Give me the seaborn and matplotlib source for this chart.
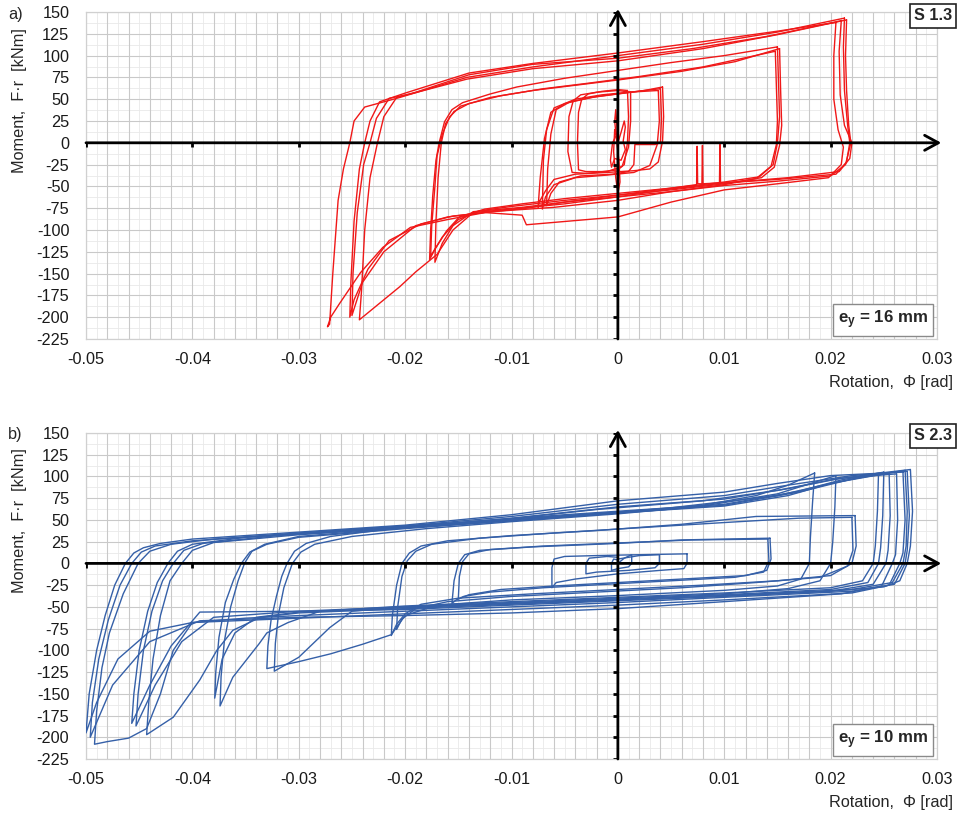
import numpy as np
import pandas as pd
import matplotlib
matplotlib.use("Agg")
import matplotlib.pyplot as plt
import seaborn as sns

# ---------------------------------------------------------------------------
# Axis scales and tick labels
# ---------------------------------------------------------------------------
rotation_ticks = [-0.05, -0.04, -0.03, -0.02, -0.01, 0.0, 0.01, 0.02, 0.03]
rotation_labels = ["-0.05", "-0.04", "-0.03", "-0.02", "-0.01", "0", "0.01", "0.02", "0.03"]
moment_ticks = [150, 125, 100, 75, 50, 25, 0, -25, -50, -75, -100, -125, -150, -175, -200, -225]
moment_labels = ["150", "125", "100", "75", "50", "25", "0", "-25", "-50", "-75",
                 "-100", "-125", "-150", "-175", "-200", "-225"]

# ---------------------------------------------------------------------------
# Specimen S 1.3 (e_y = 16 mm): cycles as (rotation [rad], moment [kNm])
# ---------------------------------------------------------------------------
s13_cycle_01 = [(0.0000, 0), (0.0003, 12), (0.0006, 25), (0.0007, 18), (0.0005, 2), (0.0007, -8),
                (0.0003, -20), (-0.0003, -18), (-0.0006, -28), (-0.0007, -20), (-0.0005, 0),
                (-0.0001, 10), (0.0000, 5)]
s13_cycle_02 = [(0.0000, 5), (-0.0001, 20), (-0.0002, 38), (-0.0003, 25), (-0.0001, 0),
                (0.0001, -20), (0.0002, -45), (0.0000, -58), (-0.0002, -40), (-0.0004, -10),
                (-0.0003, 15), (0.0000, 5)]
s13_cycle_03 = [(0.0009, 60), (0.0010, 30), (0.0009, 0), (0.0006, -25), (0.0000, -31),
                (-0.0015, -33), (-0.0030, -33), (-0.0037, -31), (-0.0038, 0), (-0.0037, 35),
                (-0.0034, 50), (-0.0028, 56), (-0.0015, 59), (0.0000, 61), (0.0009, 60)]
s13_cycle_04 = [(0.0012, 58), (0.0012, 25), (0.0010, -5), (0.0004, -27), (-0.0010, -33),
                (-0.0030, -35), (-0.0043, -34), (-0.0047, -10), (-0.0046, 30), (-0.0042, 48),
                (-0.0035, 55), (-0.0020, 58), (0.0000, 60), (0.0012, 58)]
s13_cycle_05 = [(0.0042, 64), (0.0043, 30), (0.0042, 2), (0.0038, -22), (0.0030, -30),
                (0.0015, -32), (-0.0010, -34), (-0.0040, -36), (-0.0060, -42), (-0.0068, -55),
                (-0.0074, -68), (-0.0075, -74), (-0.0073, -40), (-0.0069, 5), (-0.0063, 35),
                (-0.0050, 45), (-0.0025, 52), (0.0000, 56), (0.0025, 60), (0.0042, 64)]
s13_cycle_06 = [(0.0040, 62), (0.0041, 28), (0.0040, 0), (0.0035, -2), (0.0016, -2),
                (0.0015, -25), (0.0010, -33), (-0.0005, -36), (-0.0035, -38), (-0.0055, -45),
                (-0.0063, -58), (-0.0067, -72), (-0.0066, -30), (-0.0063, 10), (-0.0058, 38),
                (-0.0045, 47), (-0.0020, 53), (0.0005, 57), (0.0025, 60), (0.0040, 62)]
s13_cycle_07 = [(0.0038, 60), (0.0039, 25), (0.0037, -2), (0.0030, -26), (0.0015, -34),
                (-0.0010, -37), (-0.0040, -40), (-0.0060, -48), (-0.0068, -62), (-0.0071, -76),
                (-0.0070, -20), (-0.0067, 15), (-0.0060, 40), (-0.0040, 50), (-0.0015, 55),
                (0.0010, 58), (0.0038, 60)]
s13_cycle_08 = [(0.0150, 110), (0.0151, 70), (0.0152, 30), (0.0150, 0), (0.0146, -25),
                (0.0133, -39), (0.0100, -45), (0.0050, -52), (0.0000, -58), (-0.0050, -64),
                (-0.0090, -70), (-0.0125, -76), (-0.0149, -85), (-0.0161, -101), (-0.0172, -122),
                (-0.0177, -134), (-0.0176, -100), (-0.0174, -60), (-0.0171, -20), (-0.0168, 0),
                (-0.0163, 24), (-0.0156, 38), (-0.0146, 46), (-0.0120, 56), (-0.0095, 64),
                (-0.0050, 74), (0.0000, 83), (0.0050, 92), (0.0100, 100), (0.0150, 110)]
s13_cycle_09 = [(0.0148, 105), (0.0149, 65), (0.0150, 25), (0.0149, -2), (0.0144, -27),
                (0.0130, -41), (0.0100, -48), (0.0050, -56), (0.0000, -62), (-0.0050, -68),
                (-0.0090, -74), (-0.0136, -79), (-0.0155, -95), (-0.0165, -115), (-0.0172, -137),
                (-0.0171, -90), (-0.0169, -40), (-0.0166, 0), (-0.0162, 22), (-0.0154, 36),
                (-0.0140, 45), (-0.0110, 54), (-0.0070, 62), (-0.0030, 68), (0.0020, 76),
                (0.0080, 87), (0.0148, 105)]
s13_cycle_10 = [(0.0152, 108), (0.0153, 60), (0.0154, 20), (0.0152, -3), (0.0147, -28),
                (0.0135, -40), (0.0100, -47), (0.0050, -54), (0.0000, -60), (-0.0050, -66),
                (-0.0100, -73), (-0.0130, -78), (-0.0150, -88), (-0.0165, -108), (-0.0176, -130),
                (-0.0175, -95), (-0.0172, -50), (-0.0170, -15), (-0.0165, 10), (-0.0158, 30),
                (-0.0148, 42), (-0.0120, 52), (-0.0080, 60), (-0.0040, 66), (0.0000, 72),
                (0.0060, 82), (0.0110, 93), (0.0152, 108)]
s13_cycle_11 = [(0.0213, 143), (0.0212, 110), (0.0213, 60), (0.0216, 20), (0.0218, 0),
                (0.0215, -22), (0.0205, -36), (0.0150, -42), (0.0100, -46), (0.00965, -46),
                (0.0096, -2), (0.00955, -46), (0.0080, -47), (0.00795, -3), (0.0079, -47),
                (0.0075, -47), (0.00745, -4), (0.0074, -48), (0.0050, -52), (0.0000, -60),
                (-0.0050, -68), (-0.0086, -75), (-0.0125, -80), (-0.0160, -88), (-0.0195, -97),
                (-0.0221, -120), (-0.0242, -149), (-0.0262, -185), (-0.0270, -200),
                (-0.0273, -211), (-0.0271, -208), (-0.0268, -150), (-0.0263, -66),
                (-0.0258, -30), (-0.0252, 0), (-0.0248, 25), (-0.0238, 41), (-0.0205, 52),
                (-0.0142, 75), (-0.0080, 87), (0.0000, 100), (0.0080, 113), (0.0150, 127),
                (0.0213, 143)]
s13_cycle_12 = [(0.0205, 138), (0.0203, 100), (0.0203, 50), (0.0207, 15), (0.0212, -5),
                (0.0210, -25), (0.0198, -40), (0.0150, -47), (0.0100, -54), (0.0050, -68),
                (0.0000, -85), (-0.0086, -94), (-0.0090, -83), (-0.0125, -80), (-0.0155, -84),
                (-0.0185, -93), (-0.0215, -112), (-0.0235, -145), (-0.0248, -180),
                (-0.0252, -200), (-0.0251, -160), (-0.0248, -90), (-0.0243, -30), (-0.0238, 0),
                (-0.0233, 25), (-0.0224, 47), (-0.0200, 57), (-0.0140, 80), (-0.0080, 91),
                (0.0000, 103), (0.0080, 116), (0.0150, 128), (0.0205, 138)]
s13_cycle_13 = [(0.0210, 140), (0.0208, 105), (0.0209, 55), (0.0213, 20), (0.0220, 0),
                (0.0218, -18), (0.0208, -33), (0.0160, -40), (0.0100, -46), (0.0050, -53),
                (0.0000, -62), (-0.0050, -70), (-0.0100, -76), (-0.0136, -80), (-0.0155, -100),
                (-0.0170, -128), (-0.0190, -148), (-0.0205, -165), (-0.0225, -185),
                (-0.0243, -203), (-0.0241, -170), (-0.0238, -100), (-0.0233, -40), (-0.0226, 0),
                (-0.0220, 30), (-0.0208, 52), (-0.0190, 58), (-0.0140, 78), (-0.0080, 90),
                (0.0000, 97), (0.0070, 108), (0.0140, 122), (0.0210, 140)]
s13_cycle_14 = [(0.0215, 141), (0.0214, 100), (0.0215, 60), (0.0217, 20), (0.0219, 0),
                (0.0214, -25), (0.0200, -38), (0.0150, -44), (0.0100, -49), (0.0050, -56),
                (0.0000, -66), (-0.0060, -74), (-0.0120, -79), (-0.0160, -85), (-0.0190, -95),
                (-0.0220, -125), (-0.0240, -160), (-0.0250, -198), (-0.0249, -150),
                (-0.0245, -80), (-0.0239, -25), (-0.0233, 0), (-0.0227, 28), (-0.0215, 51),
                (-0.0195, 56), (-0.0142, 73), (-0.0080, 85), (0.0000, 94), (0.0080, 108),
                (0.0150, 124), (0.0215, 141)]

s13_cycles = [s13_cycle_01, s13_cycle_02, s13_cycle_03, s13_cycle_04, s13_cycle_05,
              s13_cycle_06, s13_cycle_07, s13_cycle_08, s13_cycle_09, s13_cycle_10,
              s13_cycle_11, s13_cycle_12, s13_cycle_13, s13_cycle_14]

# ---------------------------------------------------------------------------
# Specimen S 2.3 (e_y = 10 mm): cycles as (rotation [rad], moment [kNm])
# ---------------------------------------------------------------------------
s23_cycle_01 = [(0.0000, 0), (0.0006, 6), (0.0013, 10), (0.0013, 0), (0.0010, -4),
                (0.0000, -6), (-0.0006, -8), (-0.0006, 0), (-0.0004, 5), (0.0000, 4)]
s23_cycle_02 = [(0.0000, 5), (0.0020, 9), (0.0039, 10), (0.0039, 0), (0.0035, -5),
                (0.0010, -8), (-0.0020, -10), (-0.0030, -12), (-0.0030, 0), (-0.0027, 6),
                (-0.0010, 8), (0.0000, 7)]
s23_cycle_03 = [(0.0065, 11), (0.0065, 0), (0.0062, -6), (0.0040, -8), (0.0000, -12),
                (-0.0040, -18), (-0.0058, -22), (-0.0062, -28), (-0.0062, -5), (-0.0060, 5),
                (-0.0050, 8), (-0.0020, 9), (0.0020, 10), (0.0065, 11)]
s23_cycle_04 = [(0.0143, 29), (0.0144, 5), (0.0140, -8), (0.0120, -14), (0.0060, -18),
                (0.0000, -22), (-0.0060, -26), (-0.0110, -30), (-0.0140, -36), (-0.0152, -42),
                (-0.0156, -46), (-0.0154, -20), (-0.0150, 0), (-0.0144, 10), (-0.0130, 15),
                (-0.0080, 19), (0.0000, 23), (0.0060, 27), (0.0143, 29)]
s23_cycle_05 = [(0.0141, 28), (0.0142, 3), (0.0137, -10), (0.0110, -16), (0.0050, -20),
                (-0.0010, -24), (-0.0070, -28), (-0.0120, -33), (-0.0145, -38), (-0.0150, -41),
                (-0.0149, -15), (-0.0146, 2), (-0.0140, 11), (-0.0120, 16), (-0.0070, 20),
                (0.0010, 24), (0.0070, 27), (0.0141, 28)]
s23_cycle_06 = [(0.0223, 55), (0.0224, 20), (0.0220, 0), (0.0200, -14), (0.0150, -20),
                (0.0080, -25), (0.0000, -30), (-0.0080, -35), (-0.0150, -40), (-0.0185, -47),
                (-0.0200, -58), (-0.0208, -70), (-0.0213, -83), (-0.0212, -60), (-0.0208, -25),
                (-0.0203, 0), (-0.0196, 12), (-0.0185, 20), (-0.0160, 26), (-0.0100, 32),
                (-0.0017, 38), (0.0060, 45), (0.0130, 54), (0.0223, 55)]
s23_cycle_07 = [(0.0220, 53), (0.0221, 15), (0.0216, -3), (0.0190, -16), (0.0130, -22),
                (0.0060, -28), (-0.0020, -33), (-0.0100, -38), (-0.0160, -44), (-0.0190, -52),
                (-0.0203, -64), (-0.0208, -76), (-0.0207, -50), (-0.0203, -15), (-0.0198, 3),
                (-0.0190, 14), (-0.0175, 22), (-0.0130, 29), (-0.0060, 35), (0.0020, 41),
                (0.0100, 47), (0.0170, 52), (0.0220, 53)]
s23_cycle_08 = [(0.0185, 104), (0.0183, 70), (0.0181, 30), (0.0180, 0), (0.0172, -18),
                (0.0150, -26), (0.0100, -31), (0.0000, -37), (-0.0100, -42), (-0.0170, -48),
                (-0.0200, -60), (-0.0213, -82), (-0.0240, -93), (-0.0270, -104), (-0.0300, -113),
                (-0.0330, -121), (-0.0329, -95), (-0.0326, -65), (-0.0321, -38), (-0.0316, -15),
                (-0.0311, 0), (-0.0304, 14), (-0.0293, 23), (-0.0270, 31), (-0.0200, 42),
                (-0.0100, 51), (0.0000, 59), (0.0080, 67), (0.0130, 78), (0.0160, 90),
                (0.0185, 104)]
s23_cycle_09 = [(0.0205, 101), (0.0204, 65), (0.0202, 25), (0.0200, 0), (0.0190, -20),
                (0.0160, -29), (0.0100, -35), (0.0000, -40), (-0.0100, -45), (-0.0200, -50),
                (-0.0250, -55), (-0.0271, -74), (-0.0300, -108), (-0.0323, -124), (-0.0322, -92),
                (-0.0319, -58), (-0.0314, -28), (-0.0306, 0), (-0.0298, 13), (-0.0285, 22),
                (-0.0250, 31), (-0.0180, 40), (-0.0100, 48), (0.0000, 57), (0.0080, 66),
                (0.0150, 80), (0.0205, 101)]
s23_cycle_10 = [(0.0245, 103), (0.0244, 60), (0.0242, 20), (0.0240, 0), (0.0230, -20),
                (0.0200, -28), (0.0100, -34), (0.0000, -39), (-0.0100, -44), (-0.0200, -49),
                (-0.0280, -55), (-0.0310, -68), (-0.0330, -80), (-0.0337, -92), (-0.0362, -131),
                (-0.0374, -164), (-0.0373, -130), (-0.0370, -90), (-0.0364, -50), (-0.0357, -20),
                (-0.0351, 0), (-0.0344, 14), (-0.0330, 22), (-0.0300, 30), (-0.0200, 40),
                (-0.0100, 49), (0.0000, 58), (0.0100, 66), (0.0160, 78), (0.0200, 92),
                (0.0245, 103)]
s23_cycle_11 = [(0.0250, 105), (0.0249, 55), (0.0247, 18), (0.0245, 0), (0.0235, -22),
                (0.0200, -30), (0.0100, -36), (0.0000, -41), (-0.0100, -46), (-0.0200, -51),
                (-0.0300, -56), (-0.0340, -62), (-0.0360, -80), (-0.0372, -110), (-0.0379, -155),
                (-0.0378, -125), (-0.0375, -85), (-0.0369, -45), (-0.0361, -18), (-0.0354, 0),
                (-0.0346, 13), (-0.0332, 22), (-0.0300, 31), (-0.0200, 41), (-0.0100, 50),
                (0.0000, 59), (0.0100, 68), (0.0170, 83), (0.0210, 96), (0.0250, 105)]
s23_cycle_12 = [(0.0270, 107), (0.0272, 60), (0.0271, 20), (0.0268, 0), (0.0258, -22),
                (0.0220, -30), (0.0100, -37), (0.0000, -42), (-0.0100, -47), (-0.0200, -52),
                (-0.0300, -57), (-0.0336, -62), (-0.0362, -77), (-0.0377, -100), (-0.0393, -134),
                (-0.0418, -177), (-0.0443, -197), (-0.0441, -160), (-0.0437, -110),
                (-0.0430, -60), (-0.0421, -20), (-0.0410, 0), (-0.0400, 15), (-0.0380, 24),
                (-0.0300, 33), (-0.0200, 41), (-0.0100, 49), (0.0000, 58), (0.0100, 67),
                (0.0170, 82), (0.0220, 97), (0.0270, 107)]
s23_cycle_13 = [(0.0255, 104), (0.0256, 55), (0.0254, 15), (0.0252, 0), (0.0240, -24),
                (0.0200, -32), (0.0100, -38), (0.0000, -43), (-0.0100, -48), (-0.0200, -53),
                (-0.0300, -55), (-0.0393, -56), (-0.0420, -95), (-0.0440, -140), (-0.0457, -184),
                (-0.0455, -150), (-0.0450, -100), (-0.0442, -55), (-0.0433, -22), (-0.0423, 0),
                (-0.0414, 14), (-0.0400, 22), (-0.0350, 30), (-0.0250, 39), (-0.0150, 47),
                (-0.0050, 56), (0.0050, 64), (0.0150, 78), (0.0200, 92), (0.0255, 104)]
s23_cycle_14 = [(0.0275, 108), (0.0277, 60), (0.0275, 20), (0.0272, 0), (0.0265, -20),
                (0.0250, -27), (0.0200, -32), (0.0100, -37), (0.0000, -42), (-0.0100, -46),
                (-0.0200, -50), (-0.0300, -55), (-0.0380, -62), (-0.0410, -90), (-0.0435, -140),
                (-0.0453, -187), (-0.0451, -150), (-0.0446, -100), (-0.0438, -55),
                (-0.0428, -20), (-0.0418, 0), (-0.0408, 15), (-0.0390, 23), (-0.0320, 32),
                (-0.0220, 40), (-0.0120, 49), (-0.0020, 62), (0.0080, 72), (0.0150, 84),
                (0.0200, 96), (0.0240, 103), (0.0275, 108)]
s23_cycle_15 = [(0.0272, 106), (0.0274, 55), (0.0272, 15), (0.0270, 0), (0.0260, -24),
                (0.0220, -32), (0.0100, -39), (0.0000, -45), (-0.0100, -50), (-0.0200, -55),
                (-0.0300, -60), (-0.0350, -63), (-0.0400, -68), (-0.0418, -100), (-0.0430, -150),
                (-0.0443, -190), (-0.0460, -201), (-0.0480, -205), (-0.0492, -208),
                (-0.0490, -170), (-0.0485, -120), (-0.0478, -80), (-0.0465, -35), (-0.0451, 0),
                (-0.0440, 14), (-0.0420, 22), (-0.0380, 28), (-0.0300, 35), (-0.0200, 43),
                (-0.0100, 54), (0.0000, 68), (0.0100, 78), (0.0160, 90), (0.0220, 101),
                (0.0272, 106)]
s23_cycle_16 = [(0.0268, 105), (0.0270, 50), (0.0268, 12), (0.0265, 0), (0.0255, -25),
                (0.0220, -34), (0.0100, -42), (0.0000, -48), (-0.0100, -53), (-0.0200, -58),
                (-0.0300, -63), (-0.0400, -68), (-0.0440, -78), (-0.0470, -110), (-0.0490, -160),
                (-0.0500, -195), (-0.0497, -150), (-0.0490, -100), (-0.0482, -60),
                (-0.0473, -25), (-0.0463, 0), (-0.0455, 12), (-0.0446, 18), (-0.0430, 23),
                (-0.0400, 28), (-0.0300, 36), (-0.0200, 44), (-0.0100, 56), (0.0000, 72),
                (0.0100, 82), (0.0150, 92), (0.0200, 101), (0.0268, 105)]
s23_cycle_17 = [(0.0262, 103), (0.0263, 50), (0.0261, 10), (0.0258, 0), (0.0248, -26),
                (0.0210, -35), (0.0100, -44), (0.0000, -52), (-0.0100, -57), (-0.0200, -60),
                (-0.0300, -62), (-0.0393, -66), (-0.0440, -90), (-0.0475, -140), (-0.0496, -200),
                (-0.0494, -160), (-0.0488, -110), (-0.0479, -65), (-0.0468, -25), (-0.0457, 0),
                (-0.0448, 13), (-0.0435, 20), (-0.0400, 26), (-0.0300, 34), (-0.0200, 42),
                (-0.0100, 52), (0.0000, 65), (0.0100, 74), (0.0160, 86), (0.0210, 98),
                (0.0262, 103)]

s23_cycles = [s23_cycle_01, s23_cycle_02, s23_cycle_03, s23_cycle_04, s23_cycle_05,
              s23_cycle_06, s23_cycle_07, s23_cycle_08, s23_cycle_09, s23_cycle_10,
              s23_cycle_11, s23_cycle_12, s23_cycle_13, s23_cycle_14, s23_cycle_15,
              s23_cycle_16, s23_cycle_17]

# ---------------------------------------------------------------------------
# Styling
# ---------------------------------------------------------------------------
sns.set_theme(style="white")
plt.rcParams["font.family"] = ["Liberation Sans", "DejaVu Sans"]
plt.rcParams["mathtext.fontset"] = "custom"
plt.rcParams["mathtext.rm"] = "Liberation Sans"
plt.rcParams["mathtext.bf"] = "Liberation Sans:bold"
plt.rcParams["mathtext.it"] = "Liberation Sans:italic"

RED = "#f01818"
BLUE = "#3560a8"
FS = 11.7
W, H = 960, 815


def cycles_frame(cycles):
    rows = []
    for k, pts in enumerate(cycles):
        for step, (rot, mom) in enumerate(pts):
            rows.append((k, step, rot, mom))
    return pd.DataFrame(rows, columns=["cycle", "step", "rotation", "moment"])


def fx(px):
    return px / W


def fy(py):
    return 1 - py / H


def style_panel(ax):
    ax.set_xlim(-0.05, 0.03)
    ax.set_ylim(-225, 150)
    # fine grid: every 0.001 rad and 12.5 kNm; main grid: 0.002 rad and 25 kNm
    for x in np.arange(-0.05, 0.0301, 0.001):
        ax.axvline(x, color="#e9e9e9", lw=0.6, zorder=0)
    for y in np.arange(-225, 150.1, 12.5):
        ax.axhline(y, color="#e9e9e9", lw=0.6, zorder=0)
    for x in np.arange(-0.05, 0.0301, 0.002):
        ax.axvline(x, color="#c9c9c9", lw=0.8, zorder=0.5)
    for y in moment_ticks:
        ax.axhline(y, color="#c9c9c9", lw=0.8, zorder=0.5)

    ax.set_xticks(rotation_ticks)
    ax.set_xticklabels(rotation_labels, fontsize=FS, color="#1a1a1a")
    ax.set_yticks(moment_ticks)
    ax.set_yticklabels(moment_labels, fontsize=FS, color="#1a1a1a")
    ax.tick_params(axis="both", length=0)
    ax.tick_params(axis="x", pad=9)
    ax.tick_params(axis="y", pad=12)
    ax.set_xlabel("")
    ax.set_ylabel("")
    for sp in ax.spines.values():
        sp.set_color("#d0d0d0")
        sp.set_linewidth(0.9)

    # black coordinate axes through the origin, with arrow heads
    arrow = dict(arrowstyle="->,head_length=0.55,head_width=0.3", lw=2.0,
                 color="black", shrinkA=0, shrinkB=0, mutation_scale=18)
    ax.annotate("", xy=(0.0304, 0), xytext=(-0.05, 0), arrowprops=arrow,
                annotation_clip=False, zorder=5)
    ax.annotate("", xy=(0, 153.5), xytext=(0, -225), arrowprops=arrow,
                annotation_clip=False, zorder=5)
    ax.vlines([t for t in rotation_ticks if t != 0.0 and t < 0.03], -5, 0,
              color="black", lw=2.0, zorder=5)
    ax.hlines([t for t in moment_ticks if t != 0], -0.00045, 0,
              color="black", lw=2.0, zorder=5)


fig = plt.figure(figsize=(W / 100, H / 100), dpi=100)
fig.patch.set_facecolor("white")

ax_a = fig.add_axes([fx(86), fy(339), fx(937) - fx(86), fy(12) - fy(339)])
ax_b = fig.add_axes([fx(86), fy(759), fx(937) - fx(86), fy(433) - fy(759)])

for ax, cycles, color in [(ax_a, s13_cycles, RED), (ax_b, s23_cycles, BLUE)]:
    style_panel(ax)
    df = cycles_frame(cycles)
    sns.lineplot(data=df, x="rotation", y="moment", units="cycle", estimator=None,
                 sort=False, color=color, linewidth=1.0, ax=ax, legend=False, zorder=3)
    ax.set_xlabel("")
    ax.set_ylabel("")

# panel letters, axis titles and specimen boxes
for top, letter, spec, ecc in [(0, "a)", "S 1.3", "16"), (420, "b)", "S 2.3", "10")]:
    fig.text(fx(8), fy(14 + top), letter, fontsize=FS, ha="left", va="center")
    fig.text(fx(20), fy(101 + top), "Moment,  F·r  [kNm]", fontsize=FS, rotation=90,
             ha="center", va="center")
    fig.text(fx(953), fy(383 + top), "Rotation,  Φ [rad]", fontsize=FS,
             ha="right", va="center")
    fig.text(fx(933), fy(16 + top), spec, fontsize=FS, fontweight="bold",
             ha="center", va="center",
             bbox=dict(boxstyle="square,pad=0.25", fc="white", ec="#222222", lw=1.2))
    fig.text(fx(883), fy(320 + top), r"$\mathbf{e_y}$" + f" = {ecc} mm", fontsize=FS + 0.5,
             fontweight="bold", ha="center", va="center",
             bbox=dict(boxstyle="square,pad=0.3", fc="white", ec="#8a8a8a", lw=1.0))

fig.savefig("out.png", dpi=100, facecolor="white")
